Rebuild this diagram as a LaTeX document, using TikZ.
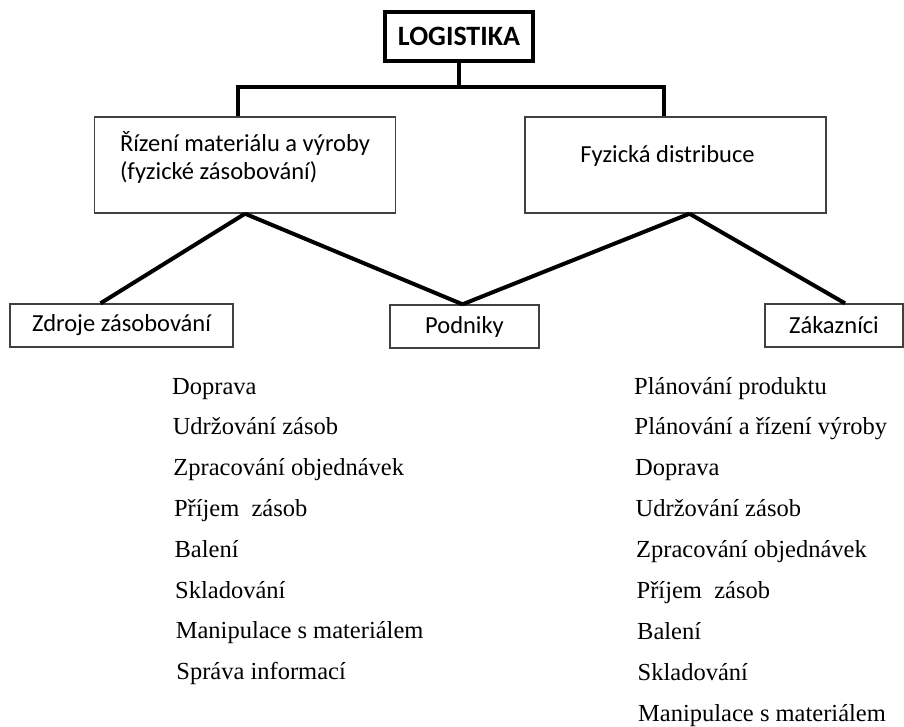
\documentclass[tikz,border=0pt]{standalone}
\usepackage{fontspec}
\setmainfont{Liberation Serif}
\newfontfamily\calibri{Carlito}
\usetikzlibrary{positioning,calc}

\begin{document}
\begin{tikzpicture}[x=1pt, y=-1pt,
  every node/.style={font=\calibri\fontsize{24.5}{28}\selectfont},
  box/.style={draw=black!75, line width=1.4pt, minimum height=43pt, inner sep=0pt},
  bigbox/.style={draw=black!75, line width=1.4pt, minimum width=301pt,
    minimum height=96pt, align=left},
  topbox/.style={draw, line width=4.5pt, minimum width=148pt, minimum height=49pt,
    font=\calibri\bfseries\fontsize{28}{32}\selectfont},
  link/.style={line width=4pt},
  task/.style={anchor=base west, inner sep=0pt, font=\fontsize{24.5}{28}\selectfont}]
\useasboundingbox (0,0) rectangle (904,726);
\node[topbox] (logistika) at (459,36.5) {LOGISTIKA};
\node[bigbox, yshift=0pt] (rizeni) at (245,165)
  {Řízení materiálu a výroby\\(fyzické zásobování)\\[-8pt]\mbox{}};
\node[bigbox, text depth=22pt] (fyzicka) at (675.5,165) {Fyzická distribuce\hspace{16pt}};
\node[box, minimum width=223pt] (zdroje) at (121.5,325.5) {Zdroje zásobování};
\node[box, minimum width=149pt] (podniky) at (464.5,326.5) {Podniky};
\node[box, minimum width=138pt] (zakaznici) at (834,325.5) {Zákazníci};
% tree bar
\coordinate (barL) at (238,87);
\coordinate (barR) at (664,87);
\draw[link] (logistika.south) -- (logistika.south |- barL);
\draw[link] (barL |- rizeni.north) -- (barL) -- (barR) -- (barR |- fyzicka.north);
% second level links
\draw[link] (rizeni.south) -- ([xshift=-21pt]zdroje.north);
\draw[link] (rizeni.south) -- ([xshift=-2pt]podniky.north);
\draw[link] ([xshift=14pt]fyzicka.south) -- ([xshift=-2pt]podniky.north);
\draw[link] ([xshift=14pt]fyzicka.south) -- ([xshift=11pt]zakaznici.north);
% activity lists
\foreach \txt [count=\i from 0] in {Doprava, Udržování zásob, Zpracování objednávek,
    Příjem~ zásob, Balení, Skladování, Manipulace s materiálem, Správa informací}
  \node[task] (left\i) at (172+0.6*\i, 394+40.8*\i) {\txt};
\foreach \txt [count=\i from 0] in {Plánování produktu, Plánování a řízení výroby,
    Doprava, Udržování zásob, Zpracování objednávek, Příjem~ zásob, Balení,
    Skladování, Manipulace s materiálem}
  \node[task] (right\i) at (634+0.5*\i, 394+40.9*\i) {\txt};
\end{tikzpicture}
\end{document}
